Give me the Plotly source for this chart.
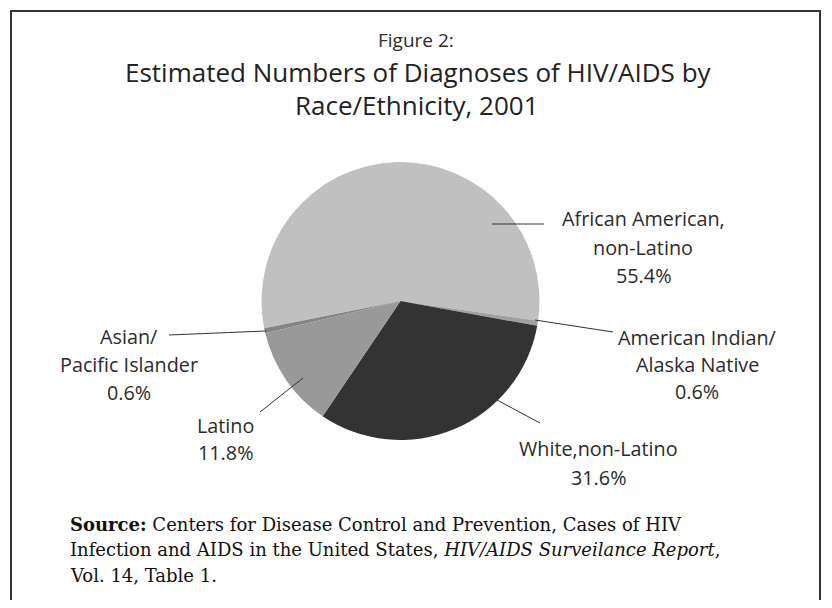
import plotly.graph_objects as go

# ---- data ----
categories = ["African American, non-Latino", "American Indian/Alaska Native",
              "White, non-Latino", "Latino", "Asian/Pacific Islander"]
values = [55.4, 0.6, 31.6, 11.8, 0.6]
label_lines = [["African American,", "non-Latino"],
               ["American Indian/", "Alaska Native"],
               ["White,non-Latino"],
               ["Latino"],
               ["Asian/", "Pacific Islander"]]
colors = ["#c0c0c0", "#a0a0a0", "#333333", "#999999", "#858585"]

# page body has an 8px margin
OFF = 8
W, H = 816, 592
def px(x): return (x - OFF) / W
def py(y): return 1 - (y - OFF) / H

# layout: label centre x, first line y, line spacing; leader lines (x0,y0,x1,y1)
label_pos = [(643, 218, 29), (697, 337, 27), (598, 448, 29), (225, 425, 27), (129, 336, 28)]
leaders = [(492, 224, 544, 224), (535, 320, 613, 332), (497, 400, 540, 423),
           (303, 378, 260, 412), (266, 331, 169, 335)]

SANS = "'Open Sans', Lato, sans-serif"
TXT = "#2b2b2b"

fig = go.Figure(go.Pie(
    labels=categories, values=values, sort=False, direction="clockwise",
    rotation=258.7, textinfo="none", hoverinfo="label+percent",
    marker=dict(colors=colors, line=dict(width=0)),
    domain=dict(x=[px(261.5), px(539.5)], y=[py(440), py(162)]),
    showlegend=False,
))

ann = []
for lines, v, (cx, y0, dy) in zip(label_lines, values, label_pos):
    allines = lines + [f"{v}%"]
    for i, t in enumerate(allines):
        ann.append(dict(x=px(cx), y=py(y0 + i * dy), xref="paper", yref="paper",
                        text=t, showarrow=False, xanchor="center", yanchor="middle",
                        font=dict(family=SANS, size=19.8, color=TXT)))

ann.append(dict(x=px(416), y=py(40), xref="paper", yref="paper", text="Figure 2:",
                showarrow=False, xanchor="center", yanchor="middle",
                font=dict(family=SANS, size=19, color=TXT)))
ann.append(dict(x=px(418), y=py(72), xref="paper", yref="paper",
                text="Estimated Numbers of Diagnoses of HIV/AIDS by",
                showarrow=False, xanchor="center", yanchor="middle",
                font=dict(family=SANS, size=26, color="#222222")))
ann.append(dict(x=px(417), y=py(105), xref="paper", yref="paper",
                text="Race/Ethnicity, 2001",
                showarrow=False, xanchor="center", yanchor="middle",
                font=dict(family=SANS, size=26, color="#222222")))

SERIF = "'DejaVu Serif', 'Liberation Serif', serif"
src = ["<b>Source:</b> Centers for Disease Control and Prevention, Cases of HIV",
       "Infection and AIDS in the United States, <i>HIV/AIDS Surveilance Report</i>,",
       "Vol. 14, Table 1."]
for i, t in enumerate(src):
    ann.append(dict(x=px(68), y=py(524 + i * 25.5), xref="paper", yref="paper", text=t,
                    showarrow=False, xanchor="left", yanchor="middle",
                    font=dict(family=SERIF, size=18, color="#111111")))

shapes = [dict(type="rect", xref="paper", yref="paper", x0=px(11), y0=py(640),
               x1=px(820), y1=py(11), line=dict(color="#333333", width=2))]
for (x0, y0, x1, y1) in leaders:
    shapes.append(dict(type="line", xref="paper", yref="paper", x0=px(x0), y0=py(y0),
                       x1=px(x1), y1=py(y1), line=dict(color="#333333", width=1)))

fig.update_layout(width=W, height=H, margin=dict(l=0, r=0, t=0, b=0),
                  paper_bgcolor="white", plot_bgcolor="white",
                  annotations=ann, shapes=shapes)
fig.write_html("out.html")
